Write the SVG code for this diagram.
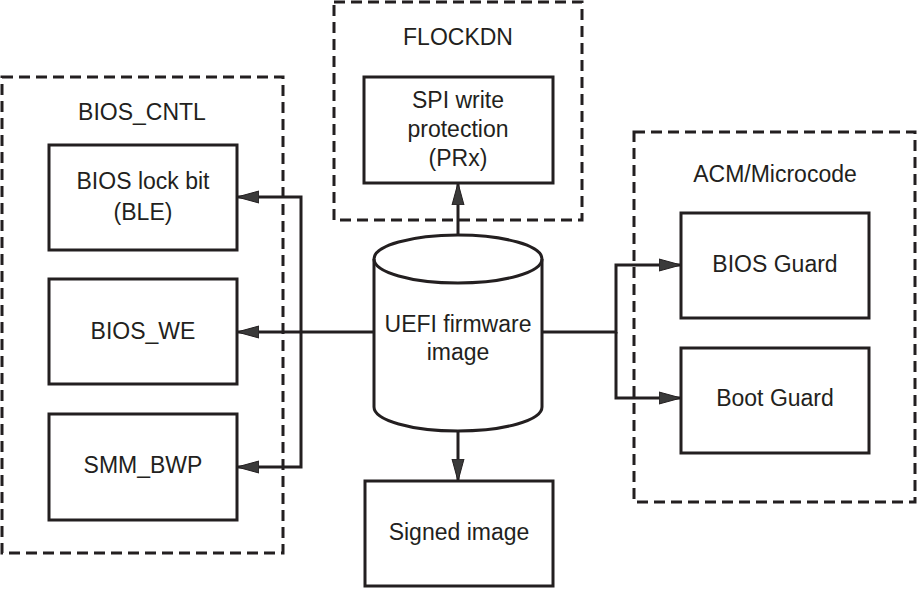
<svg xmlns="http://www.w3.org/2000/svg" width="917" height="589" viewBox="0 0 917 589">
<defs>
<style>
.grp{fill:none;stroke:#231f20;stroke-width:3;stroke-dasharray:11 6}
.box{fill:#fff;stroke:#231f20;stroke-width:3}
.cyl{fill:#fff;stroke:#231f20;stroke-width:3}
.t{font-family:"Liberation Sans",Arial,sans-serif;font-size:23px;fill:#231f20;text-anchor:middle}
.c{fill:none;stroke:#231f20;stroke-width:3;marker-end:url(#ah)}
.l{fill:none;stroke:#231f20;stroke-width:3}
</style>
<marker id="ah" markerUnits="userSpaceOnUse" markerWidth="24" markerHeight="14" refX="22" refY="7" orient="auto">
<path d="M0,1 L22,7 L0,13 z" fill="#3a3a3a" stroke="#231f20" stroke-width="1"/>
</marker>
</defs>
<g id="bios_cntl">
<rect class="grp" x="2" y="77" width="281" height="476"/>
<text class="t" x="142" y="120">BIOS_CNTL</text>
</g>
<g id="flockdn">
<rect class="grp" x="334" y="2" width="248" height="218"/>
<text class="t" x="458" y="45">FLOCKDN</text>
</g>
<g id="acm">
<rect class="grp" x="634" y="132" width="281" height="370"/>
<text class="t" x="775" y="182">ACM/Microcode</text>
</g>
<g id="connectors">
<path class="l" d="M373,332 H301"/>
<path class="c" d="M301,332 H237"/>
<path class="c" d="M301,332 V197 H237"/>
<path class="c" d="M301,332 V467 H237"/>
<path class="c" d="M458,236 V183"/>
<path class="c" d="M458,431 V481"/>
<path class="c" d="M543,332 H616 V265 H681"/>
<path class="c" d="M616,332 V398 H681"/>
</g>
<g id="ble">
<rect class="box" x="49" y="145" width="188" height="105"/>
<text class="t" x="143" y="189">BIOS lock bit</text>
<text class="t" x="143" y="220">(BLE)</text>
</g>
<g id="bios_we">
<rect class="box" x="49" y="279" width="188" height="105"/>
<text class="t" x="143" y="339">BIOS_WE</text>
</g>
<g id="smm_bwp">
<rect class="box" x="49" y="414" width="188" height="106"/>
<text class="t" x="143" y="473">SMM_BWP</text>
</g>
<g id="spi">
<rect class="box" x="364" y="77" width="189" height="106"/>
<text class="t" x="458" y="108">SPI write</text>
<text class="t" x="458" y="137">protection</text>
<text class="t" x="458" y="166">(PRx)</text>
</g>
<g id="uefi">
<path class="cyl" d="M374,259 V407 A84,24 0 0 0 542,407 V259 A84,24 0 0 0 374,259 Z"/>
<path class="l" d="M374,259 A84,24 0 0 0 542,259"/>
<text class="t" x="458" y="332">UEFI firmware</text>
<text class="t" x="458" y="360">image</text>
</g>
<g id="signed">
<rect class="box" x="365" y="481" width="188" height="105"/>
<text class="t" x="459" y="540">Signed image</text>
</g>
<g id="bios_guard">
<rect class="box" x="681" y="213" width="188" height="105"/>
<text class="t" x="775" y="272">BIOS Guard</text>
</g>
<g id="boot_guard">
<rect class="box" x="681" y="348" width="188" height="105"/>
<text class="t" x="775" y="406">Boot Guard</text>
</g>
</svg>
